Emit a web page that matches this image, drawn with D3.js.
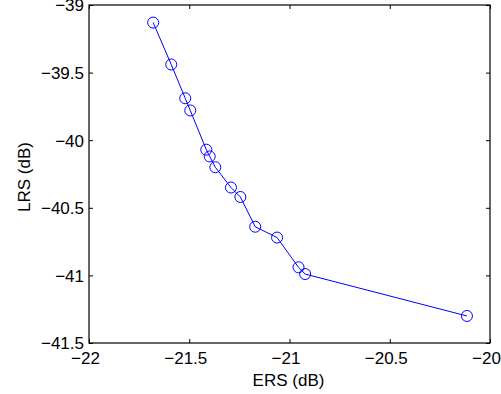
<!DOCTYPE html>
<html>
<head>
<meta charset="utf-8">
<script src="https://cdn.jsdelivr.net/npm/d3@7"></script>
<style>
  html, body { margin: 0; padding: 0; background: #fff; }
  svg { display: block; }
  text { font-family: "Liberation Sans", Arial, Helvetica, sans-serif; }
</style>
</head>
<body>
<svg id="chart" width="501" height="394"></svg>
<script>
// Data
const ersValues = [-21.68, -21.59, -21.52, -21.495, -21.415, -21.398, -21.37, -21.292, -21.245, -21.171, -21.062, -20.955, -20.922, -20.115];
const lrsValues = [-39.13, -39.44, -39.69, -39.78, -40.07, -40.12, -40.20, -40.35, -40.42, -40.64, -40.72, -40.94, -40.99, -41.30];
const xTicks = [-22, -21.5, -21, -20.5, -20];
const yTicks = [-39, -39.5, -40, -40.5, -41, -41.5];
const xLabel = "ERS (dB)";
const yLabel = "LRS (dB)";

const svg = d3.select("#chart");
const L = 89, R = 490, T = 5, B = 343;

const x = d3.scaleLinear().domain([-22, -20]).range([L, R]);
const y = d3.scaleLinear().domain([-41.5, -39]).range([B, T]);
const fmt = d3.format("");

const fontSize = 17;

// Bottom axis
const gx = svg.append("g").attr("transform", `translate(0,${B})`)
  .call(d3.axisBottom(x).tickValues(xTicks).tickFormat(fmt).tickSizeInner(-4).tickSizeOuter(0));
gx.select(".domain").remove();
gx.selectAll(".tick line").attr("stroke", "#000");
gx.selectAll(".tick text").attr("y", 21).attr("dy", null).attr("dx", -4)
  .attr("fill", "#000").style("font-size", fontSize + "px");

// Top axis (ticks only)
const gxt = svg.append("g").attr("transform", `translate(0,${T})`)
  .call(d3.axisTop(x).tickValues(xTicks).tickFormat("").tickSizeInner(-4).tickSizeOuter(0));
gxt.select(".domain").remove();
gxt.selectAll(".tick line").attr("stroke", "#000");

// Left axis
const gy = svg.append("g").attr("transform", `translate(${L},0)`)
  .call(d3.axisLeft(y).tickValues(yTicks).tickFormat(fmt).tickSizeInner(-4).tickSizeOuter(0));
gy.select(".domain").remove();
gy.selectAll(".tick line").attr("stroke", "#000");
gy.selectAll(".tick text").attr("x", -5).attr("dy", "0.35em")
  .attr("fill", "#000").style("font-size", fontSize + "px");

// Right axis (ticks only)
const gyr = svg.append("g").attr("transform", `translate(${R},0)`)
  .call(d3.axisRight(y).tickValues(yTicks).tickFormat("").tickSizeInner(-4).tickSizeOuter(0));
gyr.select(".domain").remove();
gyr.selectAll(".tick line").attr("stroke", "#000");

// Box
svg.append("rect")
  .attr("x", L).attr("y", T).attr("width", R - L).attr("height", B - T)
  .attr("fill", "none").attr("stroke", "#000").attr("stroke-width", 1.2);

// Data line
const pts = ersValues.map((e, i) => [e, lrsValues[i]]);
svg.append("path")
  .datum(pts)
  .attr("fill", "none")
  .attr("stroke", "#0000ff")
  .attr("stroke-width", 1)
  .attr("d", d3.line().x(d => x(d[0])).y(d => y(d[1])));

svg.append("g").selectAll("circle")
  .data(pts).join("circle")
  .attr("cx", d => x(d[0])).attr("cy", d => y(d[1]))
  .attr("r", 5.5)
  .attr("fill", "none").attr("stroke", "#0000ff").attr("stroke-width", 1);

// Labels
svg.append("text")
  .attr("x", (L + R) / 2 - 1).attr("y", 386)
  .attr("text-anchor", "middle").style("font-size", fontSize + "px").attr("fill", "#000")
  .text(xLabel);

svg.append("text")
  .attr("transform", `translate(30,${(T + B) / 2 + 3}) rotate(-90)`)
  .attr("text-anchor", "middle").style("font-size", fontSize + "px").attr("fill", "#000")
  .text(yLabel);
</script>
</body>
</html>
